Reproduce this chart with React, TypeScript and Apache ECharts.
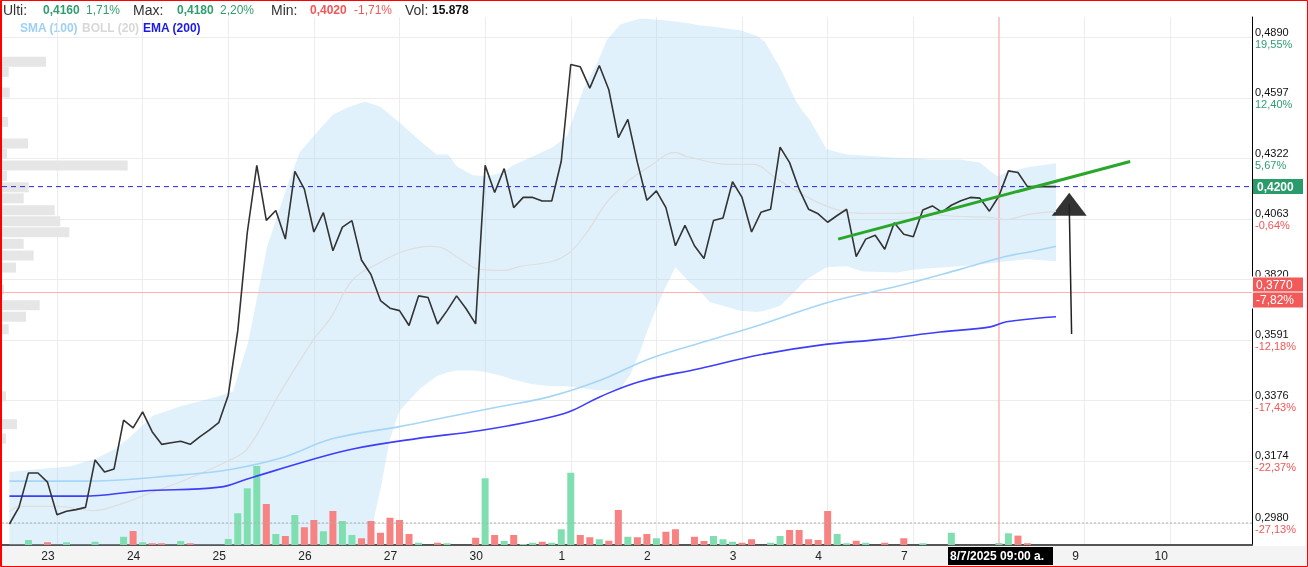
import React, { useEffect, useRef } from "react";
import * as echarts from "echarts";

const FONT = "'Liberation Sans', Arial, sans-serif";

// ---- x axis (hourly bars, 9 per session) ----
const dayLabels = ["23", "24", "25", "26", "27", "30", "1", "2", "3", "4", "7", "8", "9", "10"];
const FIRST_DAY_START = 5; // bar index of 23 09:00
const BARS_PER_DAY = 9;
const X_MIN = -0.78;
const X_MAX = 130.6;

// ---- price (close of each hourly bar) ----
const closes = [
  0.2977, 0.3028, 0.3136, 0.3136, 0.3107, 0.3005, 0.3016, 0.3021, 0.3028, 0.3178,
  0.3139, 0.3149, 0.3310, 0.3284, 0.3338, 0.3271, 0.3229, 0.3234, 0.3239, 0.3229,
  0.3254, 0.3276, 0.3301, 0.3395, 0.3626, 0.4008, 0.4292, 0.4058, 0.4099, 0.3981,
  0.4266, 0.4189, 0.4010, 0.4090, 0.3934, 0.4030, 0.4057, 0.3897, 0.3840, 0.3739,
  0.3710, 0.3701, 0.3645, 0.3757, 0.3751, 0.3651, 0.3701, 0.3757, 0.3708, 0.3651,
  0.4292, 0.4175, 0.4278, 0.4111, 0.4154, 0.4154, 0.4139, 0.4139, 0.4310, 0.4757,
  0.4746, 0.4644, 0.4752, 0.4636, 0.4415, 0.4498, 0.4305, 0.4142, 0.4182, 0.4111,
  0.3954, 0.4037, 0.3954, 0.3903, 0.4057, 0.4068, 0.4221, 0.4154, 0.4010, 0.4092,
  0.4104, 0.4373, 0.4304, 0.4189, 0.4104, 0.4085, 0.4050, 0.4078, 0.4104, 0.3911,
  0.3981, 0.3997, 0.3940, 0.4048, 0.4001, 0.3991, 0.4101, 0.4118, 0.4092, 0.4121,
  0.4140, 0.4154, 0.4151, 0.4096, 0.4160, 0.4268, 0.4261, 0.4200, 0.4200, 0.4200,
  0.4200,
];

// volume per bar (thousands)
const volumes = [
  0, 0, 40, 0, 22, 0, 22, 0, 0, 26,
  0, 0, 66, 112, 22, 14, 14, 0, 32, 14,
  0, 0, 0, 48, 254, 454, 632, 328, 88, 72,
  240, 142, 200, 110, 272, 192, 80, 54, 192, 98,
  218, 200, 88, 18, 0, 18, 14, 0, 0, 58,
  534, 80, 32, 80, 8, 18, 26, 18, 126, 578,
  80, 62, 46, 34, 280, 66, 62, 88, 54, 106,
  126, 0, 66, 32, 72, 46, 26, 18, 46, 0,
  18, 72, 120, 120, 46, 40, 272, 88, 14, 34,
  18, 0, 18, 0, 54, 0, 14, 0, 0, 98,
  0, 0, 0, 0, 16, 94, 75, 14, 0, 0,
  0,
];

// ---- Bollinger (20) band, read at sample bars ----
const bollIdx = [
  0, 3.2, 6.4, 9.0, 11.1, 12.5, 15.1, 17.9, 21.8, 23.5,
  25.1, 27.1, 29.2, 30.5, 32.6, 34.0, 35.5, 37.2, 37.6, 39.0,
  40.0, 41.0, 43.2, 44.9, 46.1, 47.0, 48.7, 50.2, 51.9, 52.9,
  55.0, 57.1, 58.6, 60.3, 61.8, 62.8, 64.2, 65.2, 66.3, 67.0,
  68.1, 69.0, 70.0, 71.5, 72.6, 73.6, 76.8, 78.6, 79.4, 81.0,
  82.6, 83.4, 84.1, 85.9, 88.0, 89.7, 93.3, 95.4, 96.8, 99.9,
  102.0, 103.1, 103.9, 104.8, 107.0, 110,
];
const bollUpper = [
  0.3139, 0.3149, 0.3158, 0.3181, 0.3214, 0.3248, 0.3325, 0.3356, 0.3390, 0.3408,
  0.3584, 0.3952, 0.4202, 0.4349, 0.4453, 0.4520, 0.4552, 0.4579, 0.4577, 0.4556,
  0.4520, 0.4484, 0.4399, 0.4340, 0.4340, 0.4288, 0.4249, 0.4245, 0.4262, 0.4292,
  0.4331, 0.4372, 0.4421, 0.4636, 0.4767, 0.4878, 0.4955, 0.4970, 0.4984, 0.4984,
  0.4980, 0.4975, 0.4970, 0.4960, 0.4950, 0.4946, 0.4926, 0.4897, 0.4868, 0.4742,
  0.4588, 0.4534, 0.4498, 0.4363, 0.4340, 0.4335, 0.4326, 0.4322, 0.4318, 0.4318,
  0.4305, 0.4266, 0.4245, 0.4262, 0.4284, 0.4301,
];
const bollLower = [
  0.2890, 0.2890, 0.2887, 0.2881, 0.2876, 0.2870, 0.2870, 0.2870, 0.2870, 0.2864,
  0.2755, 0.2645, 0.2605, 0.2605, 0.2630, 0.2685, 0.2770, 0.2870, 0.2899, 0.3085,
  0.3248, 0.3342, 0.3419, 0.3461, 0.3475, 0.3482, 0.3482, 0.3475, 0.3461, 0.3450,
  0.3433, 0.3426, 0.3426, 0.3419, 0.3412, 0.3412, 0.3419, 0.3464, 0.3552, 0.3621,
  0.3719, 0.3794, 0.3868, 0.3809, 0.3775, 0.3734, 0.3700, 0.3696, 0.3700, 0.3719,
  0.3775, 0.3809, 0.3828, 0.3868, 0.3872, 0.3852, 0.3848, 0.3860, 0.3864, 0.3872,
  0.3880, 0.3884, 0.3888, 0.3892, 0.3900, 0.3892,
];
const bollMidIdx = [
  0, 1.1, 5.0, 8.8, 11.6, 14.5, 18.7, 22.9, 25.0, 28.4,
  32.0, 33.7, 36.1, 39.0, 41.4, 44.2, 45.3, 47.4, 49.5, 51.9,
  53.7, 57.1, 58.9, 60.7, 62.8, 64.9, 67.3, 70.0, 71.2, 75.7,
  78.2, 80.3, 82.0, 84.9, 87.6, 89.7, 93.3, 96.0, 98.1, 103.1,
  104.8, 107.0, 110,
];
const bollMid = [
  0.3015, 0.3031, 0.3031, 0.3018, 0.3037, 0.3069, 0.3117, 0.3174, 0.3214, 0.3401,
  0.3595, 0.3670, 0.3820, 0.3888, 0.3932, 0.3952, 0.3948, 0.3900, 0.3860, 0.3856,
  0.3872, 0.3892, 0.3928, 0.4009, 0.4134, 0.4219, 0.4288, 0.4349, 0.4331, 0.4296,
  0.4296, 0.4245, 0.4198, 0.4134, 0.4095, 0.4087, 0.4087, 0.4091, 0.4078, 0.4070,
  0.4061, 0.4082, 0.4095,
];

// ---- SMA (100) and EMA (200) ----
const smaIdx = [0, 7.7, 18.2, 23.5, 28.8, 34.0, 41.0, 46.3, 51.6, 56.8, 62.1, 67.3, 74.0, 79.2, 86.2, 93.3, 99.9, 104.8, 107.6, 110];
const sma = [0.3110, 0.3110, 0.3130, 0.3149, 0.3187, 0.3248, 0.3288, 0.3322, 0.3356, 0.3390, 0.3447, 0.3524, 0.3595, 0.3651, 0.3734, 0.3794, 0.3860, 0.3912, 0.3932, 0.3952];
const emaIdx = [0, 7.7, 14.0, 22.1, 25.0, 32.0, 36.1, 42.8, 49.5, 55.8, 58.9, 62.1, 66.3, 72.6, 78.9, 85.2, 91.8, 97.8, 103.1, 104.8, 110];
const ema = [0.3063, 0.3063, 0.3079, 0.3091, 0.3117, 0.3181, 0.3214, 0.3248, 0.3275, 0.3312, 0.3339, 0.3390, 0.3443, 0.3489, 0.3538, 0.3573, 0.3595, 0.3621, 0.3640, 0.3659, 0.3678];

// ---- volume profile (price level, volume) ----
const profilePrices = [0.4771, 0.4722, 0.4623, 0.4487, 0.4389, 0.4344, 0.4292, 0.4246, 0.4197, 0.4150, 0.4100, 0.4054, 0.4009, 0.3962, 0.3915, 0.3867, 0.3781, 0.3721, 0.3678, 0.3631, 0.3391, 0.3296, 0.3248];
const profileVols = [440, 67, 77, 60, 260, 50, 1257, 50, 267, 217, 527, 583, 673, 217, 317, 140, 20, 377, 240, 67, 40, 150, 40];
const PROFILE_MAX = 12500;
const PROFILE_HALF_LN = 0.0051;

// ---- price axis (log scale) ----
const PRICE_BOTTOM = 0.29139;
const PRICE_TOP = 0.49934;
const yTickPrices = [0.2980, 0.3174, 0.3376, 0.3591, 0.3820, 0.4063, 0.4322, 0.4597, 0.4890];
const yTickLabels = ["0,2980", "0,3174", "0,3376", "0,3591", "0,3820", "0,4063", "0,4322", "0,4597", "0,4890"];
const yTickPcts = ["-27,13%", "-22,37%", "-17,43%", "-12,18%", "-6,58%", "-0,64%", "5,67%", "12,40%", "19,55%"];
const VOL_AXIS_MAX = 4224;

// ---- markers ----
const LAST_PRICE = 0.42;
const LAST_LABEL = "0,4200";
const CURSOR_PRICE = 0.377;
const CURSOR_LABEL = "0,3770";
const CURSOR_PCT = "-7,82%";
const CURSOR_INDEX = 104;
const CURSOR_TIME = "8/7/2025 09:00 a.m.";
const FLOOR_PRICE = 0.298;
const trendLine = [[87.1, 0.3981], [117.8, 0.4309]];
const arrowShaft = [[111.64, 0.3614], [111.39, 0.4125]];
const arrowHead = [111.39, 0.4125];

// ---- header ----
const header = [
  { text: "Ulti:", x: 3, color: "#333", weight: "normal", size: 14 },
  { text: "0,4160", x: 43, color: "#2f9e6f", weight: "bold", size: 12 },
  { text: "1,71%", x: 86, color: "#2f9e6f", weight: "normal", size: 12 },
  { text: "Max:", x: 133, color: "#333", weight: "normal", size: 14 },
  { text: "0,4180", x: 177, color: "#2f9e6f", weight: "bold", size: 12 },
  { text: "2,20%", x: 220, color: "#2f9e6f", weight: "normal", size: 12 },
  { text: "Min:", x: 271, color: "#333", weight: "normal", size: 14 },
  { text: "0,4020", x: 310, color: "#f25656", weight: "bold", size: 12 },
  { text: "-1,71%", x: 354, color: "#f25656", weight: "normal", size: 12 },
  { text: "Vol:", x: 405, color: "#333", weight: "normal", size: 14 },
  { text: "15.878", x: 432, color: "#111", weight: "bold", size: 12 },
];
const legendItems = [
  { text: "SMA (100)", x: 20, color: "#9fd0f4" },
  { text: "BOLL (20)", x: 82, color: "#d8d8d8" },
  { text: "EMA (200)", x: 143, color: "#1a1ae6" },
];

export default function App() {
  const ref = useRef<HTMLDivElement>(null);

  useEffect(() => {
    const chart = echarts.init(ref.current!, null, { renderer: "svg" });
    const L = Math.log;
    const yTickLn = yTickPrices.map((p) => L(p));
    const dayStarts = dayLabels.map((_, k) => FIRST_DAY_START + k * BARS_PER_DAY);
    // the cursor's time box covers the label of its own day
    const labelValues = dayStarts.filter((v) => v !== CURSOR_INDEX);

    const line = (idx: number[], vals: number[]) => idx.map((x, k) => [x, L(vals[k])]);

    const volData = volumes.map((v, i) => ({
      value: [i, v],
      itemStyle: { color: i === 0 || closes[i] >= closes[i - 1] ? "#80dfb0" : "#f68282" },
    }));

    const hLine = (name: string, price: number, lineStyle: any, endLabel?: any) => ({
      type: "line",
      name,
      data: [[X_MIN, L(price)], [X_MAX, L(price)]],
      showSymbol: false,
      silent: true,
      lineStyle,
      endLabel: endLabel || { show: false },
    });

    const option: any = {
      animation: false,
      textStyle: { fontFamily: FONT },
      grid: { left: 2, right: 56, top: 17, bottom: 22 },
      xAxis: [
        {
          type: "value",
          min: X_MIN,
          max: X_MAX,
          position: "bottom",
          axisLine: { show: true, onZero: false, lineStyle: { color: "#555", width: 2 } },
          axisTick: { show: false, customValues: dayStarts },
          splitLine: { show: true, lineStyle: { color: "#ececec", width: 1 } },
          axisLabel: {
            customValues: labelValues,
            formatter: (v: number) => dayLabels[Math.round((v - FIRST_DAY_START) / BARS_PER_DAY)] ?? "",
            padding: [0, 18, 0, 0],
            color: "#222",
            fontSize: 12,
            margin: 5,
            hideOverlap: false,
          },
        },
        { type: "value", min: 0, max: PROFILE_MAX, show: false, position: "top" },
      ],
      yAxis: [
        {
          type: "value",
          position: "right",
          min: L(PRICE_BOTTOM),
          max: L(PRICE_TOP),
          axisLine: { show: true, onZero: false, lineStyle: { color: "#000", width: 1 } },
          axisTick: { show: false, customValues: yTickLn },
          splitLine: { show: true, lineStyle: { color: "#ececec", width: 1 } },
          axisLabel: {
            customValues: yTickLn,
            margin: 3,
            formatter: (v: number) => {
              let k = 0;
              yTickLn.forEach((t, j) => {
                if (Math.abs(t - v) < Math.abs(yTickLn[k] - v)) k = j;
              });
              const pct = yTickPcts[k];
              return `{p|${yTickLabels[k]}}\n{${pct.startsWith("-") ? "r" : "g"}|${pct}}`;
            },
            rich: {
              p: { fontSize: 11, color: "#111", lineHeight: 12, fontFamily: FONT },
              g: { fontSize: 11, color: "#2f9e6f", lineHeight: 12, fontFamily: FONT },
              r: { fontSize: 11, color: "#f25656", lineHeight: 12, fontFamily: FONT },
            },
          },
        },
        { type: "value", min: 0, max: VOL_AXIS_MAX, show: false, position: "left" },
      ],
      series: [
        {
          type: "custom",
          name: "profile",
          xAxisIndex: 1,
          yAxisIndex: 0,
          silent: true,
          data: profilePrices.map((p, k) => [profileVols[k], L(p)]),
          renderItem: (params: any, api: any) => {
            const v = api.value(0);
            const l = api.value(1);
            const a = api.coord([0, l + PROFILE_HALF_LN]);
            const b = api.coord([v, l - PROFILE_HALF_LN]);
            return {
              type: "rect",
              shape: { x: a[0], y: a[1], width: b[0] - a[0], height: b[1] - a[1] },
              style: { fill: "#e6e6e6" },
            };
          },
        },
        {
          type: "custom",
          name: "band",
          silent: true,
          data: [[0, L(0.4)]],
          renderItem: (params: any, api: any) => {
            const up = bollIdx.map((x, k) => api.coord([x, L(bollUpper[k])]));
            const lo = bollIdx.map((x, k) => api.coord([x, L(bollLower[k])])).reverse();
            const cs = params.coordSys;
            return {
              type: "polygon",
              shape: { points: up.concat(lo) },
              style: { fill: "rgba(160,210,245,0.32)" },
              clipPath: { type: "rect", shape: { x: cs.x, y: cs.y, width: cs.width, height: cs.height } },
            };
          },
        },
        {
          type: "bar",
          name: "Vol",
          xAxisIndex: 0,
          yAxisIndex: 1,
          barWidth: 7,
          silent: true,
          data: volData,
        },
        hLine("floor", FLOOR_PRICE, { color: "#b0b0b0", type: [2, 2], width: 1 }),
        {
          type: "line",
          name: "cursorX",
          data: [[CURSOR_INDEX, L(PRICE_BOTTOM)], [CURSOR_INDEX, L(PRICE_TOP)]],
          showSymbol: false,
          silent: true,
          lineStyle: { color: "#ff9f9f", width: 1 },
        },
        hLine("cursorY", CURSOR_PRICE, { color: "#ffb3b3", width: 1 }, {
          show: true,
          distance: 1,
          formatter: `{a|${CURSOR_LABEL}}\n{a|${CURSOR_PCT}}`,
          rich: {
            a: {
              color: "#fff",
              backgroundColor: "#f25a5a",
              fontSize: 12,
              fontFamily: FONT,
              width: 44,
              height: 13,
              lineHeight: 15,
              padding: [1, 3, 1, 3],
              borderColor: "#fff",
              borderWidth: 1,
            },
          },
        }),
        {
          type: "line",
          name: "BOLL",
          data: line(bollMidIdx, bollMid),
          showSymbol: false,
          smooth: 0.4,
          silent: true,
          lineStyle: { color: "#dedede", width: 1.2 },
        },
        {
          type: "line",
          name: "SMA",
          data: line(smaIdx, sma),
          showSymbol: false,
          smooth: 0.4,
          silent: true,
          lineStyle: { color: "#a6d6f7", width: 1.6 },
        },
        {
          type: "line",
          name: "EMA",
          data: line(emaIdx, ema),
          showSymbol: false,
          smooth: 0.4,
          silent: true,
          lineStyle: { color: "#3d3dfa", width: 1.6 },
        },
        hLine("last", LAST_PRICE, { color: "#2626e0", type: [5, 4], width: 1 }, {
          show: true,
          distance: 1,
          formatter: LAST_LABEL,
          color: "#fff",
          fontWeight: "bold",
          fontSize: 12,
          fontFamily: FONT,
          backgroundColor: "#2a9b6b",
          padding: [2, 4, 1, 4],
          width: 42,
        }),
        {
          type: "line",
          name: "price",
          data: closes.map((p, i) => [i, L(p)]),
          showSymbol: false,
          silent: true,
          lineStyle: { color: "#333", width: 1.6 },
        },
        {
          type: "line",
          name: "trend",
          data: trendLine.map(([x, p]) => [x, L(p)]),
          showSymbol: false,
          silent: true,
          lineStyle: { color: "#2aa62a", width: 3 },
        },
        {
          type: "line",
          name: "arrow",
          data: arrowShaft.map(([x, p]) => [x, L(p)]),
          showSymbol: false,
          silent: true,
          lineStyle: { color: "#222", width: 1.5 },
        },
        {
          type: "scatter",
          name: "arrowHead",
          data: [[arrowHead[0], L(arrowHead[1])]],
          symbol: "triangle",
          symbolSize: [35, 23],
          silent: true,
          itemStyle: { color: "#000" },
        },
      ],
      graphic: [
        { type: "rect", z: -1, silent: true, shape: { x: 2, y: 546, width: 1304, height: 20 }, style: { fill: "#f4f4f4" } },
        ...header.map((h) => ({
          type: "text",
          x: h.x,
          y: 10,
          silent: true,
          style: {
            text: h.text,
            fill: h.color,
            font: `${h.weight} ${h.size}px ${FONT}`,
            verticalAlign: "middle",
          },
        })),
        ...legendItems.map((l) => ({
          type: "text",
          x: l.x,
          y: 28,
          silent: true,
          style: { text: l.text, fill: l.color, font: `bold 12px ${FONT}`, verticalAlign: "middle" },
        })),
        { type: "rect", z: 100, silent: true, shape: { x: 948, y: 547, width: 105, height: 18 }, style: { fill: "#000" } },
        {
          type: "text",
          z: 101,
          x: 950,
          y: 556,
          silent: true,
          style: {
            text: CURSOR_TIME,
            fill: "#fff",
            font: `bold 12px ${FONT}`,
            verticalAlign: "middle",
            width: 102,
            overflow: "truncate",
            ellipsis: "",
          },
        },
        { type: "rect", z: 200, silent: true, shape: { x: 0.5, y: 0.5, width: 1307, height: 566 }, style: { fill: "none", stroke: "#ff0000", lineWidth: 1 } },
        { type: "line", z: 200, silent: true, shape: { x1: 1.5, y1: 0, x2: 1.5, y2: 567 }, style: { stroke: "#ff0000", lineWidth: 1 } },
      ],
    };

    chart.setOption(option);
    return () => chart.dispose();
  }, []);

  return <div ref={ref} style={{ position: "fixed", left: 0, top: 0, width: 1308, height: 567 }} />;
}
